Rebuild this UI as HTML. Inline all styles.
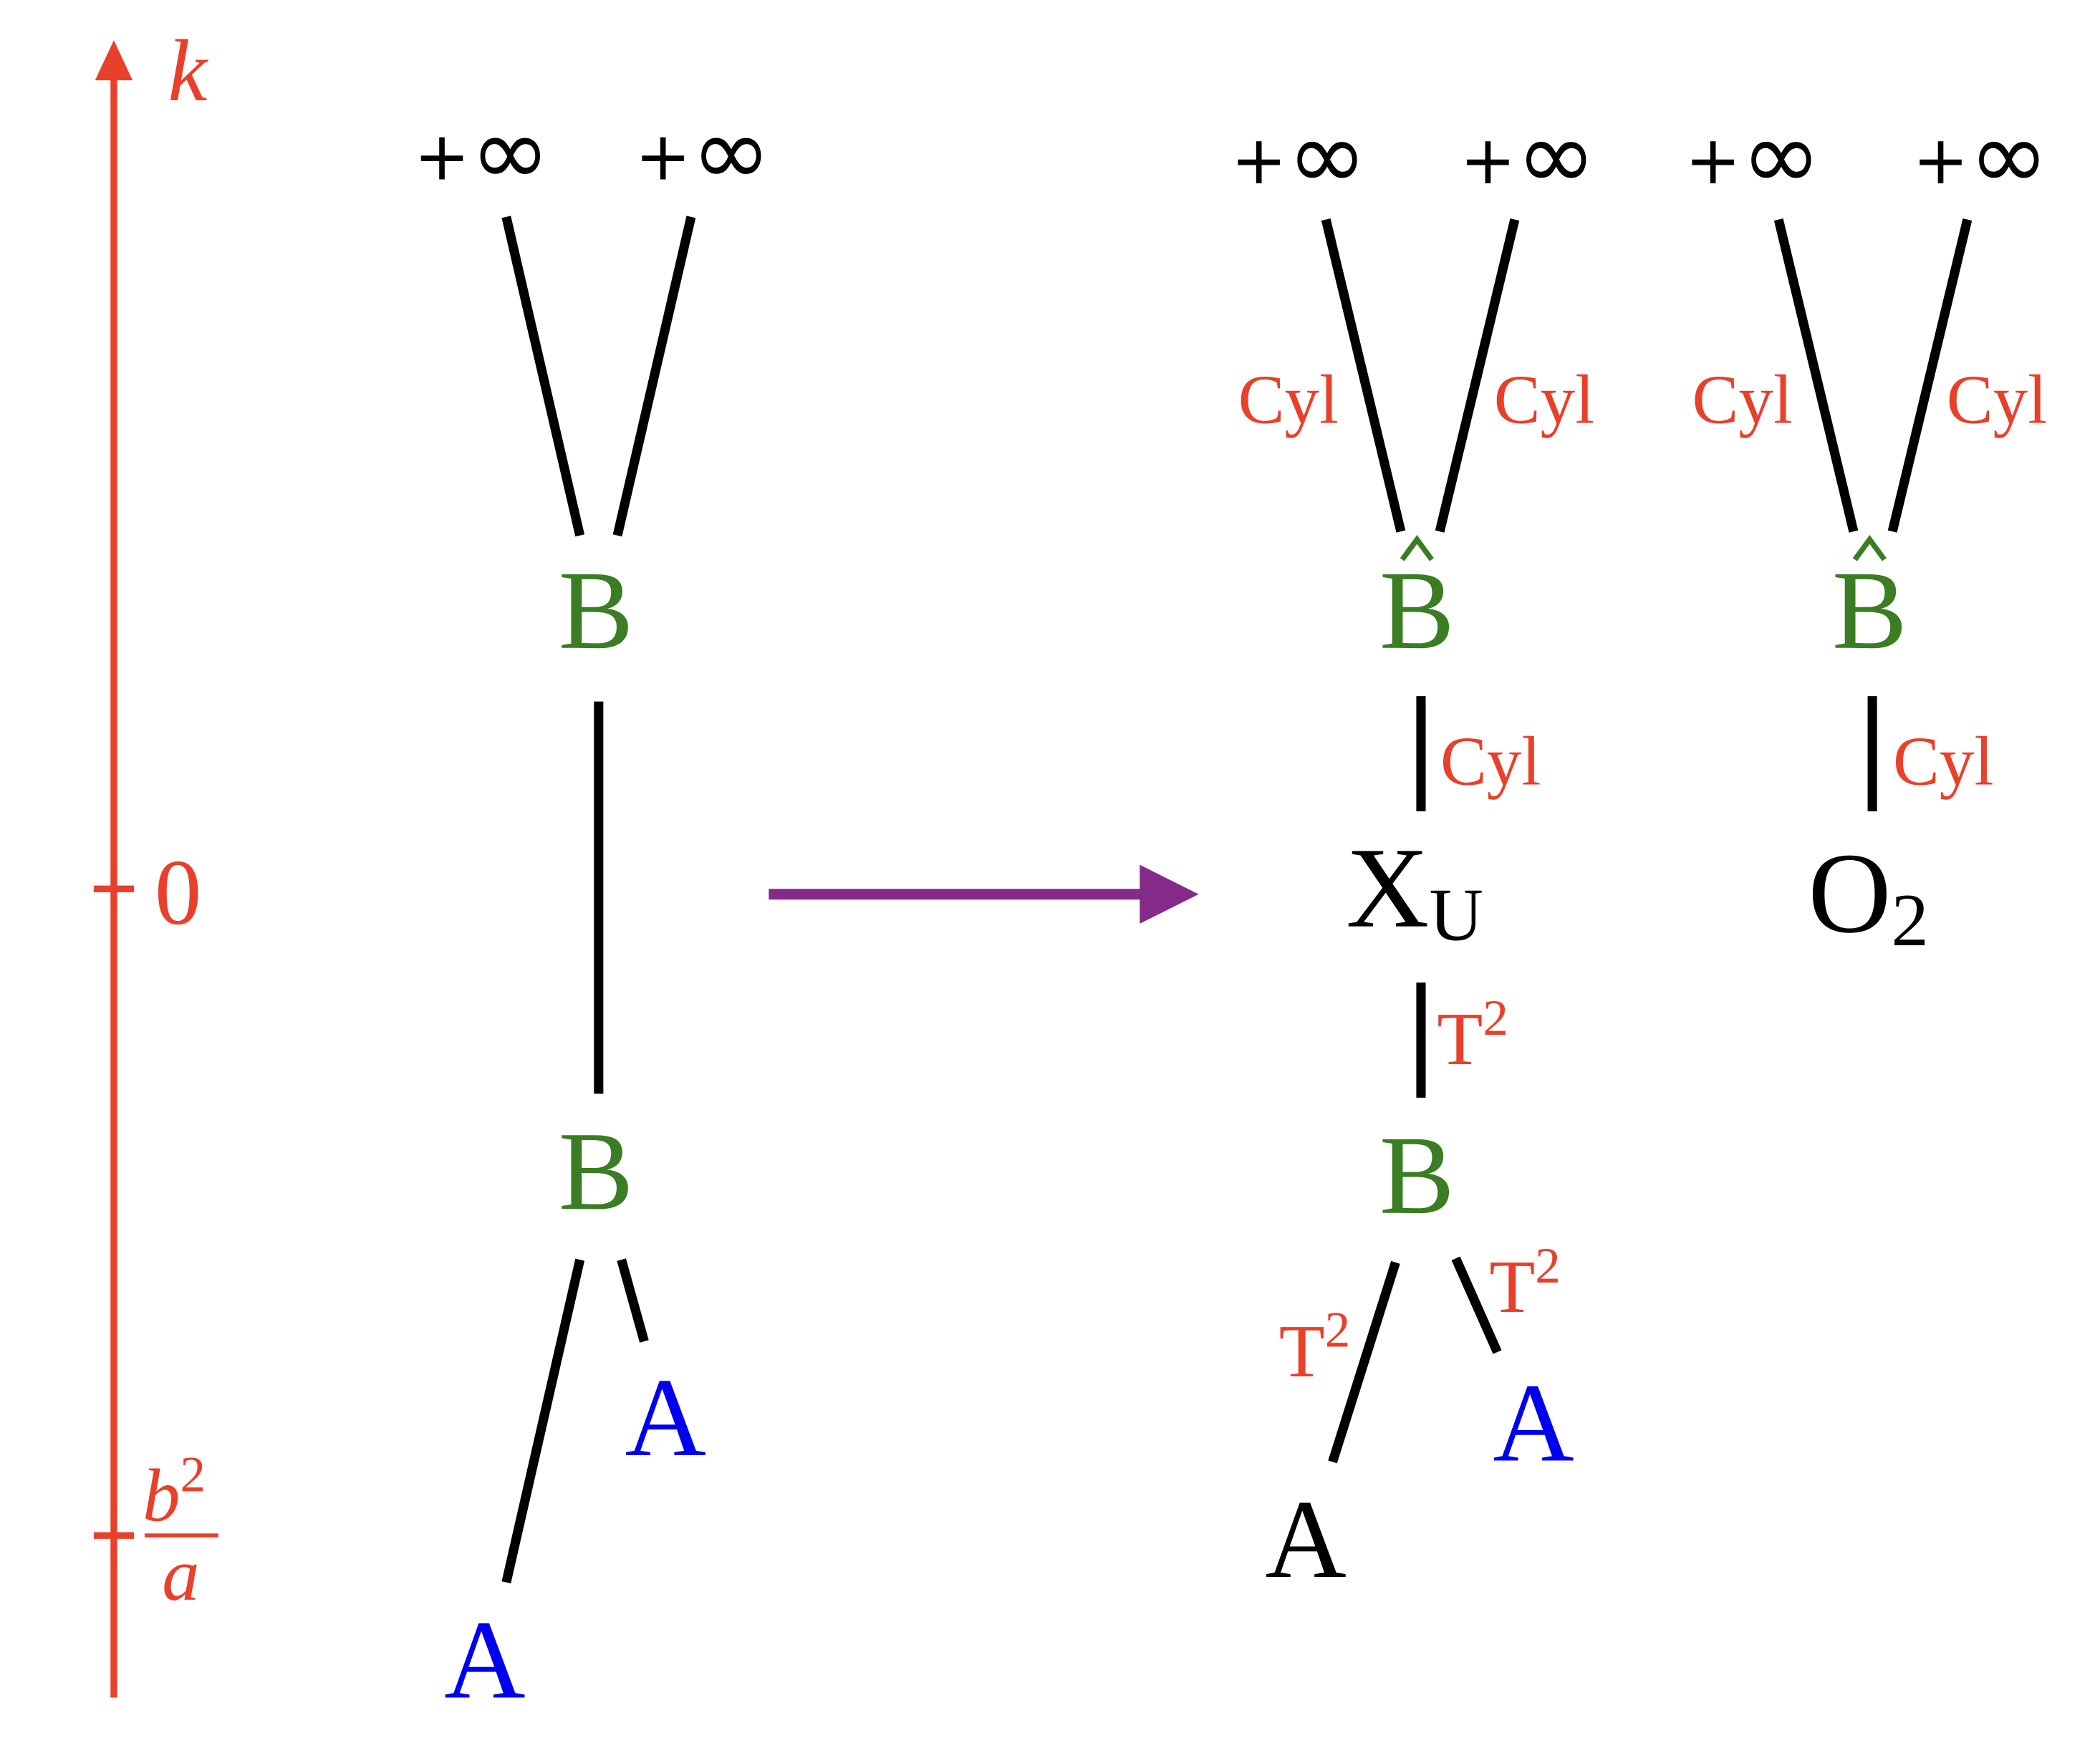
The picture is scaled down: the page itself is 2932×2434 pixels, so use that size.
<!DOCTYPE html>
<html><head><meta charset="utf-8"><style>html,body{margin:0;padding:0;background:#fff}svg{display:block}</style></head>
<body>
<svg width="2932" height="2434" viewBox="0 0 1568 1302" preserveAspectRatio="none" xmlns="http://www.w3.org/2000/svg" font-family="'Liberation Serif', serif">
<g stroke="#e8402a" stroke-width="5" fill="none">
<line x1="85" y1="58" x2="85" y2="1268"/>
<line x1="70" y1="664" x2="100" y2="664"/>
<line x1="70" y1="1147" x2="100" y2="1147"/>
<line x1="108" y1="1147" x2="163" y2="1147" stroke-width="3"/>
</g>
<polygon points="85,30 71,60 99,60" fill="#e8402a"/>
<g fill="#e8402a">
<text x="140" y="75" font-size="66" font-style="italic" text-anchor="middle">k</text>
<text x="133" y="690" font-size="70" text-anchor="middle">0</text>
<text x="130" y="1136" font-size="56" font-style="italic" text-anchor="middle">b<tspan font-size="38" font-style="normal" dy="-22">2</tspan></text>
<text x="135" y="1195" font-size="56" font-style="italic" text-anchor="middle">a</text>
</g>
<g stroke="#000" stroke-width="7" fill="none">
<line x1="378" y1="162" x2="433" y2="400"/>
<line x1="516" y1="162" x2="461" y2="400"/>
<line x1="447" y1="524" x2="447" y2="817"/>
<line x1="433" y1="941" x2="378" y2="1182"/>
<line x1="464" y1="941" x2="481" y2="1002"/>
<line x1="990" y1="164" x2="1046" y2="397"/>
<line x1="1131" y1="164" x2="1075" y2="397"/>
<line x1="1328" y1="164" x2="1384" y2="397"/>
<line x1="1469" y1="164" x2="1413" y2="397"/>
<line x1="1061" y1="520" x2="1061" y2="606"/>
<line x1="1398" y1="520" x2="1398" y2="606"/>
<line x1="1061" y1="734" x2="1061" y2="820"/>
<line x1="1042" y1="943" x2="995" y2="1092"/>
<line x1="1087" y1="940" x2="1118" y2="1010"/>
</g>
<line x1="574" y1="668" x2="856" y2="668" stroke="#862a8a" stroke-width="8"/>
<polygon points="851,646 895,668 851,690" fill="#862a8a"/>
<g font-family="'DejaVu Sans', sans-serif" font-size="50" text-anchor="middle" fill="#000">
<text x="360" y="134">+<tspan font-size="72" dy="4">∞</tspan></text>
<text x="525" y="134">+<tspan font-size="72" dy="4">∞</tspan></text>
<text x="970" y="137">+<tspan font-size="72" dy="4">∞</tspan></text>
<text x="1141" y="137">+<tspan font-size="72" dy="4">∞</tspan></text>
<text x="1309" y="137">+<tspan font-size="72" dy="4">∞</tspan></text>
<text x="1479" y="137">+<tspan font-size="72" dy="4">∞</tspan></text>
</g>
<g fill="#3a7d22" font-size="84" text-anchor="middle">
<text x="445" y="484">B</text>
<text x="445" y="903">B</text>
<text x="1058" y="484">B</text>
<text x="1396" y="484">B</text>
<text x="1058" y="906">B</text>
</g>
<g fill="none" stroke="#3a7d22" stroke-width="4"><polyline points="1047,418 1058,403 1069,418"/><polyline points="1385,418 1396,403 1407,418"/></g>
<g fill="#0000ee" font-size="84" text-anchor="middle">
<text x="497" y="1087">A</text>
<text x="362" y="1268">A</text>
<text x="1145" y="1091">A</text>
</g>
<g fill="#000" font-size="84" text-anchor="middle">
<text x="975" y="1178">A</text>
</g>
<text x="1005" y="692" font-size="86" fill="#000">X<tspan font-size="56" dy="10">U</tspan></text>
<text x="1350" y="696" font-size="86" fill="#000">O<tspan font-size="56" dy="10">2</tspan></text>
<g fill="#e8402a" font-size="52" text-anchor="middle">
<text x="962" y="316">Cyl</text>
<text x="1153" y="316">Cyl</text>
<text x="1301" y="316">Cyl</text>
<text x="1491" y="316">Cyl</text>
<text x="1113" y="586">Cyl</text>
<text x="1451" y="586">Cyl</text>
</g>
<g fill="#e8402a" font-size="56">
<text x="1073" y="795">T<tspan font-size="38" dy="-22">2</tspan></text>
<text x="955" y="1028">T<tspan font-size="38" dy="-22">2</tspan></text>
<text x="1112" y="980">T<tspan font-size="38" dy="-22">2</tspan></text>
</g>
</svg>
</body></html>
